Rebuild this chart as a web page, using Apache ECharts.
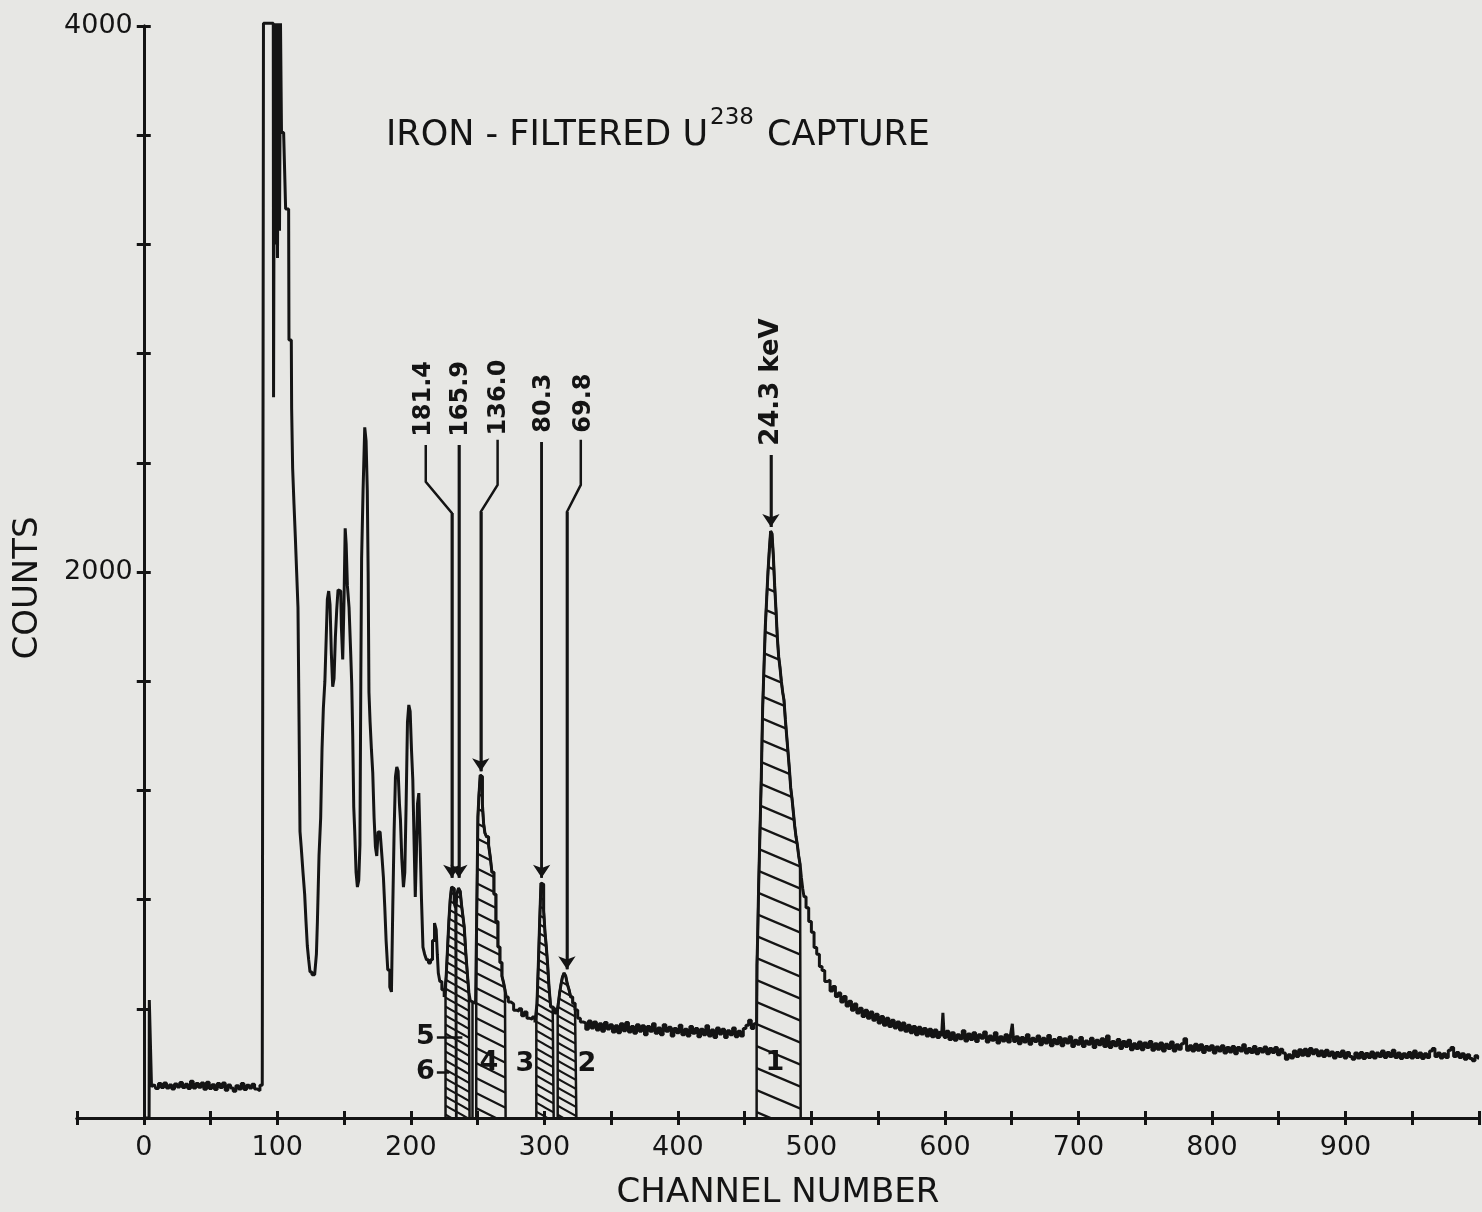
<!DOCTYPE html>
<html><head><meta charset="utf-8">
<script src="https://cdn.jsdelivr.net/npm/echarts@6.0.0/dist/echarts.min.js"></script>
<style>html,body{margin:0;padding:0;background:#e6e6e3;}#c{width:1482px;height:1212px;}</style>
</head><body><div id="c"></div>
<script>
// ---- spectrum data: [channel, counts] ----
const plateau = [[0,0],[4,0],[4.3,432],[5.6,432],[6,115],[8,122],[10,108],[12,126],[14,112],[16,128],[18,110],[20,121],[22,106],[24,125],[26,114],[28,130],[30,112],[32,124],[34,108],[36,135],[38,110],[40,126],[42,113],[44,128],[46,105],[48,131],[50,108],[52,122],[54,104],[56,126],[58,112],[60,128],[62,102],[64,121],[66,110],[68,98],[70,118],[72,106],[74,126],[76,104],[78,120],[80,110],[82,124],[84,106],[86,100],[88,120],[89.5,150]];
const offScale = [[89.8,4010],[97,4010],[97.4,2640],[98.4,4010],[99,3200],[99.8,4010],[100.5,3150],[101.3,4010],[102,3250],[102.8,4010],[103.5,3610],[106,3610],[106.5,3330],[108.5,3330],[109,2850],[110.5,2850]];
const lowPeaks = [[111,2600],[112,2380],[113,2250],[114,2130],[115,2000],[116,1870],[116.6,1450],[117.4,1050],[118.5,990],[120,900],[121,820],[122,720],[123,630],[124,580],[125,535],[127,525],[129,530],[129.6,600],[130.5,720],[132,960],[133,1100],[134,1350],[135,1500],[136.3,1600],[137,1760],[138,1900],[139,1930],[140,1880],[141,1700],[142,1580],[143,1610],[144,1760],[145,1860],[146,1935],[147.5,1930],[148.5,1800],[149.5,1680],[150.5,1900],[151.2,2160],[152,2100],[153,1950],[154.5,1870],[155.5,1700],[156,1590],[157,1400],[157.5,1140],[158.5,1050],[159.5,900],[160.5,846],[161.5,870],[162.3,1000],[162.8,1600],[163.5,2050],[165,2300],[166,2530],[167,2480],[167.8,2300],[168.3,2000],[169,1560],[170,1450],[171,1350],[172,1264],[173,1100],[174,993],[175,960],[176,1048],[178,1048],[179,950],[180,880],[181,773],[182,650],[183.5,542],[185,480],[186,462],[187,773],[188,1050],[189,1250],[190,1286],[191,1270],[192,1150],[192.5,1092],[194,950],[195,846],[196,900],[197,1150],[198,1450],[199,1513],[200,1490],[201,1350],[202,1238],[203,1000],[203.7,810],[204.5,950],[205.5,1150],[206.5,1190],[207.5,1000],[208.5,800],[209.7,626],[211,600],[212.5,580],[214,568],[215.5,580],[217,650],[218.5,714],[219.5,690],[220.2,600],[221,531],[222.5,500],[224,470]];
const hatchZone = [[226,443],[227,520],[228,620],[229,720],[230,800],[231,846],[232,840],[233,790],[234,770],[235,820],[236.5,842],[237.5,830],[238.5,780],[239.5,740],[240.5,700],[242,600],[243,520],[244,458],[245,430],[246.5,425],[248,420],[249,430],[249.5,700],[250,900],[250.5,1103],[251.5,1180],[252.5,1256],[253.2,1250],[254,1150],[255,1080],[256,1044],[257.5,1030],[259,1000],[260,956],[261.5,900],[263,820],[264.5,720],[266,626],[267.5,570],[269,520],[270,495],[271,470],[272,443],[274,425],[276,418],[278,395],[280,392],[282,400],[284,375],[286,388],[288,365],[290,362],[292,370],[294,350],[295,420],[296,560],[297,720],[298,861],[299,855],[300,760],[301,680],[302,626],[303,560],[304,480],[305.5,407],[307,400],[308.5,385],[310,390],[311,420],[312,460],[313,490],[314,515],[315.5,531],[316.5,520],[318,490],[319,470],[320.5,443],[322,420],[324,396],[326,365],[328,352]];
const midBaseline = [[330,348],[332,325],[334,355],[336,330],[338,352],[340,322],[342,345],[344,318],[346,350],[348,326],[350,342],[352,315],[354,338],[356,312],[358,345],[360,320],[362,350],[364,315],[366,335],[368,310],[370,342],[372,318],[374,338],[376,305],[378,335],[380,318],[382,345],[384,310],[386,330],[388,305],[390,342],[392,318],[394,332],[396,300],[398,328],[400,312],[402,340],[404,305],[406,325],[408,300],[410,335],[412,310],[414,328],[416,298],[418,325],[420,305],[422,338],[424,300],[426,322],[428,295],[430,330],[432,308],[434,325],[436,295],[438,320],[440,305],[442,330],[444,298],[446,318],[448,300],[450,328],[452,340],[454,358],[456,328],[458,345],[459,345]];
const peak24 = [[459.5,560],[460,660],[461,850],[462,1050],[463,1250],[464,1500],[465,1650],[466,1800],[467,1900],[468,2000],[469,2080],[470,2150],[471,2140],[472,2060],[473,1950],[474,1860],[475,1760],[476,1690],[477,1650],[478,1600],[479,1560],[480,1530],[481,1460],[482,1400],[483,1340],[484,1280],[485,1210],[486,1170],[487,1120],[488,1070],[489,1030],[490,1000],[491,960],[492,930],[493,880],[494,840],[495,810],[497,770],[499,720],[501,680],[503,625],[505,600],[507,555],[509,540],[511,500],[513,505],[515,465],[517,482],[519,445],[521,458],[523,425],[525,445],[527,410],[529,428],[531,395],[533,418],[535,385],[537,402],[539,372],[541,395],[543,365],[545,388],[547,358],[549,380],[551,348],[553,372],[555,340],[557,365],[559,335],[561,358],[563,330],[565,352],[567,322],[569,348],[571,318],[573,340],[575,312],[577,335],[579,305],[581,332],[583,308],[585,328],[587,300],[589,325],[591,298],[593,322],[595,295],[597,318],[598,300],[599,385],[600,295]];
const tail = [[602,318],[604,288],[606,312],[608,285],[610,305],[612,290],[614,320],[616,282],[618,308],[620,288],[622,312],[624,280],[626,305],[628,292],[630,315],[632,278],[634,300],[636,285],[638,312],[640,275],[642,298],[644,282],[646,305],[648,278],[650,300],[651,345],[652,280],[654,298],[656,272],[658,295],[660,278],[662,305],[664,270],[666,292],[668,280],[670,300],[672,268],[674,292],[676,275],[678,302],[680,265],[682,288],[684,272],[686,295],[688,265],[690,290],[692,275],[694,298],[696,262],[698,285],[700,270],[702,295],[704,262],[706,282],[708,270],[710,292],[712,258],[714,285],[716,268],[718,290],[720,262],[722,300],[724,258],[726,280],[728,265],[730,288],[732,255],[734,280],[736,262],[738,285],[740,250],[742,272],[744,255],[746,278],[748,250],[750,275],[752,258],[754,280],[756,248],[758,272],[760,252],[762,275],[764,245],[766,270],[768,255],[770,278],[772,245],[774,268],[776,252],[778,272],[780,290],[782,248],[784,265],[786,245],[788,270],[790,248],[792,268],[794,240],[796,262],[798,248],[800,265],[802,238],[804,260],[806,245],[808,265],[810,238],[812,258],[814,242],[816,262],[818,235],[820,258],[822,245],[824,268],[826,238],[828,255],[830,240],[832,262],[834,235],[836,255],[838,242],[840,260],[842,235],[844,255],[846,240],[848,258],[850,232],[852,252],[854,238],[856,215],[858,232],[860,220],[862,245],[864,225],[866,250],[868,230],[870,252],[872,228],[874,255],[876,235],[878,250],[880,228],[882,245],[884,225],[886,248],[888,228],[890,242],[892,220],[894,240],[896,225],[898,245],[900,220],[902,240],[904,225],[906,215],[908,238],[910,220],[912,240],[914,218],[916,236],[918,222],[920,242],[922,220],[924,238],[926,225],[928,245],[930,222],[932,240],[934,225],[936,248],[938,222],[940,238],[942,218],[944,235],[946,222],[948,240],[950,220],[952,245],[954,222],[956,238],[958,218],[960,235],[962,222],[964,245],[966,255],[968,225],[970,238],[972,220],[974,235],[976,222],[978,248],[980,258],[982,225],[984,240],[986,222],[988,235],[990,215],[992,232],[994,218],[996,210],[998,228],[1000,220]];

// ---- hatched integration regions ----
const regionIds  = ['6','5','4','3','2','1'];
const regionFrom = [226,234,249,294,310,459];
const regionTo   = [234,244,271,307,324,492];

// ---- energy annotations ----
const arrowNames = ['181.4','165.9','136.0','80.3','69.8','24.3 keV'];
const arrowPaths = [
  [[211.2,2465],[211.2,2330],[230.7,2216],[230.7,880]],
  [[236,2465],[236,880]],
  [[265,2484],[265,2319],[252.4,2220],[252.4,1270]],
  [[298,2476],[298,880]],
  [[327.3,2484],[327.3,2319],[316.9,2220],[316.9,545]],
  [[469.7,2429],[469.7,2165]]
];
const arrowLabelAt = [[209.7,2495],[237.5,2495],[265.9,2500],[299.6,2510],[329.6,2510],[469.7,2462]];
const regionLabelAt = [[218,168],[218,297],[258.4,201],[285.4,198],[331.8,198],[472.7,200]];
const leadLines = [[[219.5,297],[238.6,297]],[[219.5,168],[228.8,168]],[[246,0],[246,425]]];

// ---- axis ticks ----
const xTickLabels = [0,100,200,300,400,500,600,700,800,900];
const yTickLabels = [2000,4000];

const spectrum = [].concat(plateau, offScale, lowPeaks, hatchZone, midBaseline, peak24, tail);

const FONT = "'DejaVu Sans', sans-serif";
const INK = '#141414';
const W = 1482;
const GRID = { left: 77, right: 3, top: 26, bottom: 94 };
const X_MIN = -50, X_MAX = 1000;
const plotW = W - GRID.left - GRID.right;
const zeroPx = GRID.left + (0 - X_MIN) / (X_MAX - X_MIN) * plotW;

function hatch(w, h, lw) {
  const c = document.createElement('canvas');
  c.width = w; c.height = h;
  const g = c.getContext('2d');
  g.strokeStyle = INK; g.lineWidth = lw; g.lineCap = 'butt';
  g.beginPath();
  for (let k = -1; k <= 1; k++) {
    g.moveTo(-w, -h + k * h);
    g.lineTo(2 * w, 2 * h + k * h);
  }
  g.stroke();
  return { image: c, repeat: 'repeat' };
}
const fine = hatch(16, 9, 2);
const wide = hatch(30, 15, 2.2);
const broad = hatch(52, 22, 2.4);
const hatchFor = id => id === '4' ? wide : (id === '1' ? broad : fine);

const regionSeries = regionIds.map((id, i) => {
  const a = regionFrom[i], b = regionTo[i];
  const pts = spectrum.filter(p => p[0] >= a && p[0] <= b);
  return {
    type: 'line', name: 'region ' + id, data: [[a, 0]].concat(pts, [[b, 0]]),
    symbol: 'none', silent: true, z: 2, smooth: false, step: 'middle',
    lineStyle: { color: INK, width: 2.5 },
    areaStyle: { color: hatchFor(id), opacity: 1, origin: 'start' }
  };
});

const axisCommonX = { type: 'value', min: X_MIN, max: X_MAX, interval: 50, splitLine: { show: false } };
const axisCommonY = { type: 'value', min: 0, max: 4000, interval: 400, splitLine: { show: false } };
const lineSt = { color: INK, width: 3 };
const labelStyle = { color: INK, fontFamily: FONT, opacity: 1, textBorderWidth: 0 };

const option = {
  backgroundColor: '#e7e7e4',
  animation: false,
  title: {
    text: '{a|IRON - FILTERED U}{s|238}{a| CAPTURE}',
    left: 381, top: 102,
    textStyle: { fontWeight: 'normal', rich: {
      a: { fontFamily: FONT, fontSize: 35, fontWeight: 'normal', color: INK, lineHeight: 46, verticalAlign: 'bottom' },
      s: { fontFamily: FONT, fontSize: 23, fontWeight: 'normal', color: INK, lineHeight: 42, verticalAlign: 'top', padding: [0, 2, 0, 2] }
    } }
  },
  grid: Object.assign({ containLabel: false, outerBoundsMode: 'none' }, GRID),
  xAxis: [
    Object.assign({}, axisCommonX, {
      position: 'bottom',
      axisLine: { onZero: true, lineStyle: lineSt },
      axisTick: { show: true, length: 7, lineStyle: lineSt },
      axisLabel: { margin: 16, fontFamily: FONT, fontSize: 27, color: INK,
        formatter: v => xTickLabels.indexOf(v) >= 0 ? String(v) : '' },
      name: 'CHANNEL NUMBER', nameLocation: 'middle', nameGap: 58,
      nameTextStyle: { fontFamily: FONT, fontSize: 34, color: INK }
    }),
    Object.assign({}, axisCommonX, {
      position: 'top',
      axisLine: { onZero: true, lineStyle: lineSt },
      axisTick: { show: true, length: 7, lineStyle: lineSt },
      axisLabel: { show: false }
    })
  ],
  yAxis: [
    Object.assign({}, axisCommonY, {
      position: 'left', offset: -(zeroPx - GRID.left),
      axisLine: { onZero: false, lineStyle: lineSt },
      axisTick: { show: true, length: 7, lineStyle: lineSt },
      axisLabel: { margin: 11, fontFamily: FONT, fontSize: 27, color: INK,
        formatter: v => yTickLabels.indexOf(v) >= 0 ? String(v) : '' },
      name: 'COUNTS', nameLocation: 'middle', nameRotate: 90, nameGap: 99,
      nameTextStyle: { fontFamily: FONT, fontSize: 34, color: INK, padding: [0, 32, 0, 0] }
    }),
    Object.assign({}, axisCommonY, {
      position: 'right', offset: -(W - GRID.right - zeroPx),
      axisLine: { onZero: false, lineStyle: lineSt },
      axisTick: { show: true, length: 7, lineStyle: lineSt },
      axisLabel: { show: false }
    })
  ],
  series: regionSeries.concat([
    {
      type: 'line', name: 'spectrum', data: spectrum, symbol: 'none', z: 3, clip: false,
      smooth: false, step: 'middle', lineStyle: { color: INK, width: 3 }
    },
    {
      type: 'lines', coordinateSystem: 'cartesian2d', polyline: true, z: 4, silent: true,
      data: arrowPaths.map(p => ({ coords: p })),
      lineStyle: { color: INK, width: 2.5, opacity: 1 }
    },
    {
      type: 'lines', coordinateSystem: 'cartesian2d', z: 4, silent: true,
      data: arrowPaths.map(p => ({ coords: p.slice(-2) })),
      symbol: ['none', 'arrow'], symbolSize: [1, 13],
      lineStyle: { color: INK, width: 2.5, opacity: 1 }
    },
    {
      type: 'lines', coordinateSystem: 'cartesian2d', z: 4, silent: true,
      data: leadLines.map(p => ({ coords: p })),
      symbol: 'none',
      lineStyle: { color: INK, width: 2.5, opacity: 1 }
    },
    {
      type: 'scatter', z: 5, silent: true, symbolSize: 0,
      itemStyle: { color: INK },
      data: arrowNames.map((n, i) => ({ name: n, value: arrowLabelAt[i],
        label: { fontSize: n.indexOf('keV') >= 0 ? 26 : 24 } })),
      label: Object.assign({ show: true, position: [0, 0], formatter: '{b}', rotate: 90,
        align: 'left', verticalAlign: 'middle', fontWeight: 'bold', fontSize: 24 }, labelStyle)
    },
    {
      type: 'scatter', z: 5, silent: true, symbolSize: 0,
      itemStyle: { color: INK },
      data: regionIds.map((n, i) => ({ name: n, value: regionLabelAt[i],
        label: { align: (n === '5' || n === '6') ? 'right' : 'center' } })),
      label: Object.assign({ show: true, position: [0, 0], formatter: '{b}', verticalAlign: 'middle',
        fontWeight: 'bold', fontSize: 27 }, labelStyle)
    }
  ])
};

const chart = echarts.init(document.getElementById('c'), null, { renderer: 'canvas' });
chart.setOption(option);
</script>
</body></html>
